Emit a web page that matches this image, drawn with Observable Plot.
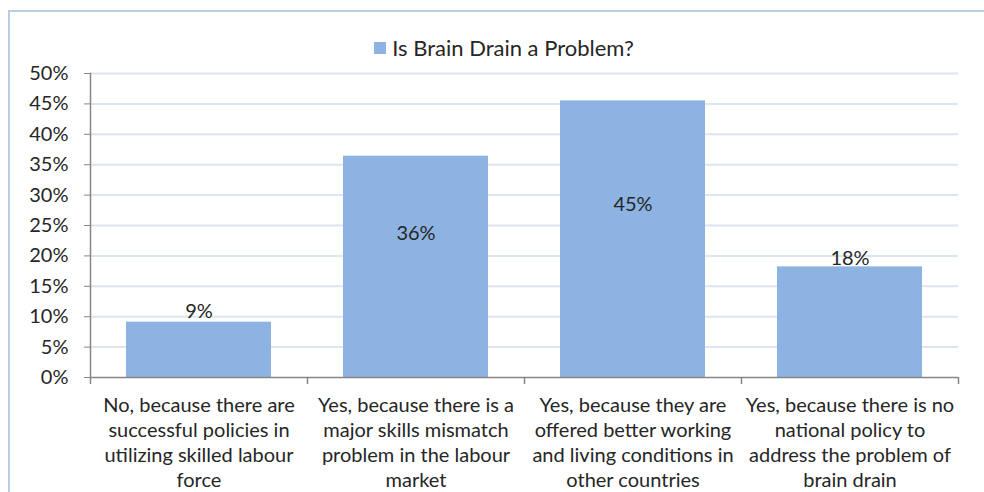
<!DOCTYPE html>
<html>
<head>
<meta charset="utf-8">
<script src="https://cdn.jsdelivr.net/npm/d3@7"></script>
<script src="https://cdn.jsdelivr.net/npm/@observablehq/plot@0.6"></script>
<style>
  html, body { margin: 0; padding: 0; background: #fff; overflow: hidden; }
  #wrap { position: relative; width: 984px; height: 492px; overflow: hidden; font-family: Lato, "Open Sans", sans-serif; color: #262626; }
  #border { position: absolute; left: 8px; top: 10px; width: 1000px; height: 500px; border: 2px solid #b9cde5; box-sizing: border-box; }
  #legend { position: absolute; left: 0; top: 0; width: 1008px; height: 60px; display: flex; justify-content: center; align-items: center; padding-top: 36px; box-sizing: border-box; font-size: 22px; line-height: 1; }
  #legend .sw { display: inline-block; width: 12px; height: 12px; background: #8db3e2; margin-right: 6px; }
  #chart { position: absolute; left: 0; top: 60px; }
</style>
</head>
<body>
<div id="wrap">
  <div id="border"></div>
  <div id="legend"><span class="sw"></span><span id="legendText"></span></div>
  <div id="chart"></div>
</div>
<script>
const seriesName = "Is Brain Drain a Problem?";
const categories = [
  "No, because there are\nsuccessful policies in\nutilizing skilled labour\nforce",
  "Yes, because there is a\nmajor skills mismatch\nproblem in the labour\nmarket",
  "Yes, because they are\noffered better working\nand living conditions in\nother countries",
  "Yes, because there is no\nnational policy to\naddress the problem of\nbrain drain"
];
const values = [9.1, 36.4, 45.5, 18.2];
const valueLabels = ["9%", "36%", "45%", "18%"];
const yTicks = [0, 5, 10, 15, 20, 25, 30, 35, 40, 45, 50];

document.getElementById("legendText").textContent = seriesName;

const data = categories.map((c, i) => ({category: c, value: values[i], label: valueLabels[i]}));

const W = 984, H = 432, mL = 90, mR = 26, mT = 13, mB = 115;
const step = (W - mL - mR) / categories.length;
// label anchor heights (in % units) as placed in the original chart
const labelAt = [10.85, 23.7, 28.45, 19.6];

const gridColor = "#dce6f2";
const axisColor = "#868686";
const font = "Lato, 'Open Sans', sans-serif";

const chart = Plot.plot({
  width: W,
  height: H,
  marginLeft: mL,
  marginRight: mR,
  marginTop: mT,
  marginBottom: mB,
  style: {fontFamily: font, fontSize: "20px", color: "#262626", background: "transparent"},
  x: {domain: categories, paddingInner: 1/3, paddingOuter: 1/6, axis: null},
  y: {domain: [0, 50], axis: null},
  marks: [
    Plot.ruleY(yTicks.filter(d => d > 0), {stroke: gridColor, strokeWidth: 2}),
    Plot.barY(data, {x: "category", y: "value", fill: "#8db3e2"}),
    Plot.ruleY([0], {stroke: axisColor, strokeWidth: 1.5}),
    Plot.frame({anchor: "left", stroke: axisColor, strokeWidth: 1.5}),
    Plot.axisY({ticks: yTicks, tickFormat: d => d + "%", tickSize: 6, tickPadding: 16, stroke: axisColor, fill: "#262626", fontSize: 20, label: null}),
    Plot.ruleX(categories, {x: d => d, dx: -step / 2, y1: 0, y2: 0, insetBottom: -7, stroke: axisColor, strokeWidth: 1.5}),
    Plot.ruleX([categories[categories.length - 1]], {x: d => d, dx: step / 2, y1: 0, y2: 0, insetBottom: -7, stroke: axisColor, strokeWidth: 1.5}),
    Plot.text(categories, {x: d => d, frameAnchor: "bottom", dy: 17, lineAnchor: "top", lineHeight: 1.25, fontSize: 20, fill: "#262626", text: d => d}),
    Plot.text(data, {x: "category", y: (d, i) => labelAt[i], text: "label", fontSize: 20, fill: "#262626", lineAnchor: "middle"})
  ]
});
document.getElementById("chart").appendChild(chart);
</script>
</body>
</html>
